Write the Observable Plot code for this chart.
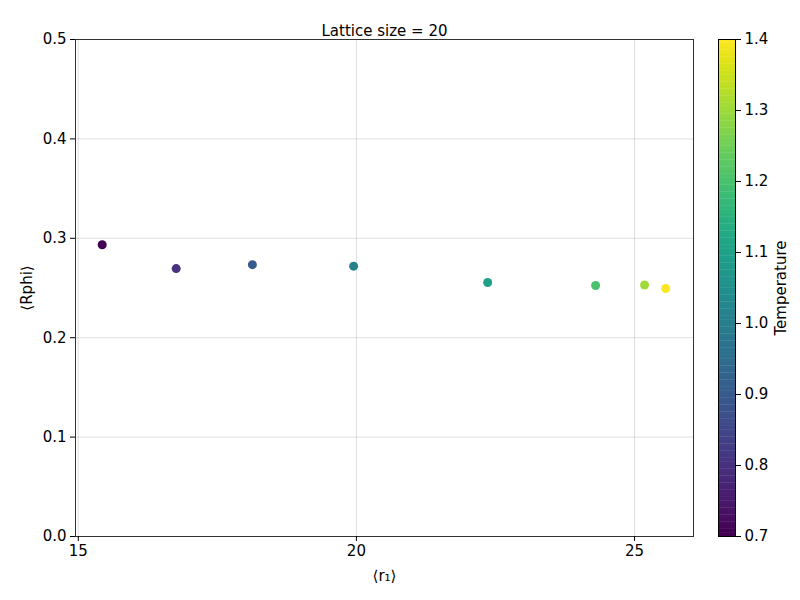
<!DOCTYPE html>
<html>
<head>
<meta charset="utf-8">
<script src="https://cdn.jsdelivr.net/npm/d3@7"></script>
<script src="https://cdn.jsdelivr.net/npm/@observablehq/plot@0.6"></script>
<style>
  body { margin: 0; background: #fff; }
  #wrap { position: relative; width: 800px; height: 600px; font-family: "DejaVu Sans", sans-serif; }
  #main, #bar { position: absolute; top: 0; }
  #main { left: 0; }
  #bar { left: 700px; }
</style>
</head>
<body>
<div id="wrap"><div id="main"></div><div id="bar"></div></div>
<script>
// mean r1 per temperature, lattice size 20
const r1 = [15.43, 16.76, 18.13, 19.95, 22.36, 24.30, 25.18, 25.56];
const rphi = [0.2935, 0.2695, 0.2735, 0.272, 0.2555, 0.2525, 0.253, 0.2495];
const temps = [0.7, 0.8, 0.9, 1.0, 1.1, 1.2, 1.3, 1.4];

const rows = r1.map((x, i) => ({x, y: rphi[i], t: temps[i]}));
const color = {type: "linear", scheme: "viridis", domain: [0.7, 1.4]};
const font = {fontFamily: "DejaVu Sans, sans-serif", fontSize: "15px", color: "#000", background: "#fff"};

const main = Plot.plot({
  width: 710, height: 600,
  marginTop: 39, marginBottom: 64, marginLeft: 75, marginRight: 17,
  style: font,
  x: {domain: [14.95, 26.06], ticks: [15, 20, 25], label: "⟨r₁⟩", labelAnchor: "center", labelArrow: "none", labelOffset: 44, tickSize: 5},
  y: {domain: [0, 0.5], ticks: [0, 0.1, 0.2, 0.3, 0.4, 0.5], tickFormat: d3.format(".1f"), label: "⟨Rphi⟩", labelAnchor: "center", labelArrow: "none", labelOffset: 54, tickSize: 5},
  color,
  marks: [
    Plot.gridX([15, 20, 25], {stroke: "#000", strokeOpacity: 0.12}),
    Plot.gridY([0.1, 0.2, 0.3, 0.4], {stroke: "#000", strokeOpacity: 0.12}),
    Plot.frame({stroke: "#333"}),
    Plot.axisX({ticks: [15, 20, 25], tickSize: 5, label: "⟨r₁⟩", labelAnchor: "center", labelArrow: "none", labelOffset: 44}),
    Plot.axisY({ticks: [0, 0.1, 0.2, 0.3, 0.4, 0.5], tickFormat: d3.format(".1f"), tickSize: 5, label: "⟨Rphi⟩", labelAnchor: "center", labelArrow: "none", labelOffset: 54}),
    Plot.dot(rows, {x: "x", y: "y", fill: "t", r: 4.5}),
    Plot.text(["Lattice size = 20"], {frameAnchor: "top", dy: -14, fontSize: 15})
  ]
});
document.getElementById("main").appendChild(main);

// colour bar strips (legend only)
const steps = d3.range(0.7, 1.4, 0.005).map(v => ({y1: v, y2: Math.min(v + 0.0055, 1.4)}));
const bar = Plot.plot({
  width: 100, height: 600,
  marginTop: 39, marginBottom: 64, marginLeft: 18, marginRight: 65,
  style: font,
  x: {domain: [0, 1], axis: null},
  y: {domain: [0.7, 1.4], ticks: d3.range(0.7, 1.41, 0.1), tickFormat: d3.format(".1f"), label: "Temperature", labelAnchor: "center", labelArrow: "none"},
  color,
  marks: [
    Plot.rectY(steps, {x1: 0, x2: 1, y1: "y1", y2: "y2", fill: "y1"}),
    Plot.frame({stroke: "#000"}),
    Plot.axisY({anchor: "right", ticks: [0.7, 0.8, 0.9, 1.0, 1.1, 1.2, 1.3, 1.4], tickFormat: d3.format(".1f"), tickSize: 5, label: "Temperature", labelAnchor: "center", labelArrow: "none", labelOffset: 50})
  ]
});
document.getElementById("bar").appendChild(bar);
</script>
</body>
</html>
